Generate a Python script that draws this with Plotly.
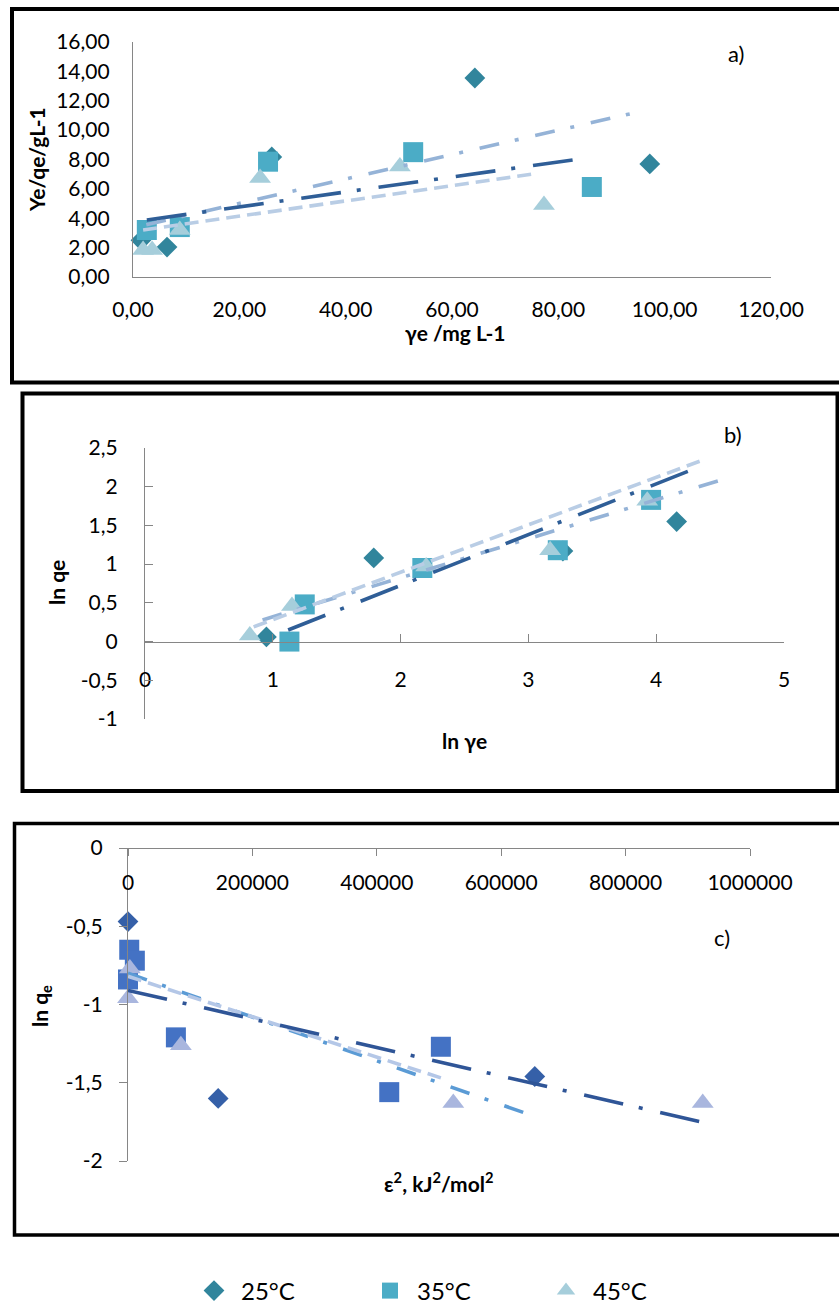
import numpy as np
import plotly.graph_objects as go

W, H = 839, 1305

series = ["25°C", "35°C", "45°C"]

# ---- a) Ye/qe vs ye ----
a_x_25 = [1.5, 6.4, 26.1, 64.3, 97.2]
a_y_25 = [2.5, 2.04, 8.17, 13.55, 7.7]
a_x_35 = [2.6, 8.8, 25.4, 52.7, 86.3]
a_y_35 = [3.2, 3.4, 7.85, 8.5, 6.13]
a_x_45 = [1.9, 3.6, 8.8, 23.9, 50.2, 77.3]
a_y_45 = [1.84, 1.84, 3.2, 6.74, 7.52, 4.9]
# linear trend lines (start x, end x, intercept, slope) per series
a_tr_x0 = [2.5, 2.6, 1.9]
a_tr_x1 = [95.8, 85.3, 76.0]
a_tr_b0 = [3.35, 3.75, 3.10]
a_tr_b1 = [0.083, 0.051, 0.052]
a_xticks = [0, 20, 40, 60, 80, 100, 120]
a_xtext = ["0,00", "20,00", "40,00", "60,00", "80,00", "100,00", "120,00"]
a_yticks = [0, 2, 4, 6, 8, 10, 12, 14, 16]
a_ytext = ["0,00", "2,00", "4,00", "6,00", "8,00", "10,00", "12,00", "14,00", "16,00"]

# ---- b) ln qe vs ln ye ----
b_x_25 = [0.95, 1.79, 3.27, 4.16]
b_y_25 = [0.06, 1.08, 1.17, 1.55]
b_x_35 = [1.13, 1.25, 2.17, 3.23, 3.96]
b_y_35 = [0.0, 0.48, 0.95, 1.18, 1.83]
b_x_45 = [0.82, 1.15, 2.2, 3.17, 3.93]
b_y_45 = [0.08, 0.46, 0.97, 1.18, 1.82]
b_tr_x0 = [0.92, 1.12, 0.85]
b_tr_x1 = [4.59, 4.34, 4.34]
b_tr_b0 = [-0.184, -0.584, -0.331]
b_tr_b1 = [0.504, 0.655, 0.613]
b_xticks = [0, 1, 2, 3, 4, 5]
b_xtext = ["0", "1", "2", "3", "4", "5"]
b_yticks = [-1, -0.5, 0, 0.5, 1, 1.5, 2, 2.5]
b_ytext = ["-1", "-0,5", "0", "0,5", "1", "1,5", "2", "2,5"]

# ---- c) ln qe vs eps^2 ----
c_x_25 = [0, 145000, 654000]
c_y_25 = [-0.47, -1.60, -1.46]
c_x_35 = [2000, 11000, 0, 77000, 420000, 503000]
c_y_35 = [-0.65, -0.72, -0.84, -1.21, -1.56, -1.27]
c_x_45 = [3000, 0, 85000, 523000, 924000]
c_y_45 = [-0.77, -0.96, -1.26, -1.63, -1.63]
c_tr_x0 = [0, 0, 0]
c_tr_x1 = [651000, 503000, 921000]
c_tr_b0 = [-0.80, -0.82, -0.91]
c_tr_b1 = [-1.40e-6, -1.29e-6, -0.912e-6]
c_xticks = [0, 200000, 400000, 600000, 800000, 1000000]
c_xtext = ["0", "200000", "400000", "600000", "800000", "1000000"]
c_yticks = [-2, -1.5, -1, -0.5, 0]
c_ytext = ["-2", "-1,5", "-1", "-0,5", "0"]

FONT = "Lato"
AXIS_GREY = "#868686"

symbols = ["diamond", "square", "triangle-up"]
sizes = [16, 20, 19]
ab_colors = ["#31859C", "#4BACC6", "#A6CEDB"]
c_colors = ["#3560A8", "#4472C4", "#A9B6DE"]

DASH_LONG = "40px,16px,4px,18px"
DASH_DOT = "20px,16px,4px,17px"
DASH = "14px,7px"
ab_line = [("#95B3D7", DASH_DOT), ("#2F5E97", DASH_LONG), ("#B9CDE5", DASH)]
c_line = [("#5B9BD5", DASH_DOT), ("#B4C7E7", DASH), ("#2F5597", DASH_LONG)]


def px(x):
    return x / W


def py(y):
    return 1 - y / H


fig = go.Figure()


def add_panel(xs, ys, colors, lines, tx0, tx1, tb0, tb1, xa, ya, legend):
    for i in range(3):
        fig.add_trace(go.Scatter(
            x=xs[i], y=ys[i], mode="markers", name=series[i],
            marker=dict(symbol=symbols[i], size=sizes[i], color=colors[i],
                        line=dict(width=0)),
            xaxis=xa, yaxis=ya, showlegend=legend, cliponaxis=False))
    for i in range(3):
        xx = np.array([tx0[i], tx1[i]], dtype=float)
        yy = tb0[i] + tb1[i] * xx
        col, dash = lines[i]
        fig.add_trace(go.Scatter(
            x=xx, y=yy, mode="lines", line=dict(color=col, width=3.6, dash=dash),
            xaxis=xa, yaxis=ya, showlegend=False, hoverinfo="skip",
            cliponaxis=False))


add_panel([a_x_25, a_x_35, a_x_45], [a_y_25, a_y_35, a_y_45], ab_colors, ab_line,
          a_tr_x0, a_tr_x1, a_tr_b0, a_tr_b1, "x", "y", True)
add_panel([b_x_25, b_x_35, b_x_45], [b_y_25, b_y_35, b_y_45], ab_colors, ab_line,
          b_tr_x0, b_tr_x1, b_tr_b0, b_tr_b1, "x2", "y2", False)
add_panel([c_x_25, c_x_35, c_x_45], [c_y_25, c_y_35, c_y_45], c_colors, c_line,
          c_tr_x0, c_tr_x1, c_tr_b0, c_tr_b1, "x3", "y3", False)

tickfont = dict(family=FONT, size=21, color="#000000")
common = dict(showgrid=False, zeroline=False, showline=True, linecolor=AXIS_GREY,
              linewidth=1.3, tickfont=tickfont, tickcolor=AXIS_GREY, tickwidth=1.3,
              tickmode="array", fixedrange=True, automargin=False)

fig.update_layout(
    width=W, height=H,
    margin=dict(l=0, r=0, t=0, b=0, autoexpand=False),
    paper_bgcolor="white", plot_bgcolor="rgba(0,0,0,0)",
    font=dict(family=FONT, color="#000000"),
    xaxis=dict(domain=[px(133), px(771)], range=[0, 120], anchor="y",
               tickvals=a_xticks, ticktext=a_xtext, ticks="", ticklabelstandoff=14,
               **common),
    yaxis=dict(domain=[py(277), py(42)], range=[0, 16], anchor="x",
               tickvals=a_yticks, ticktext=a_ytext, ticks="", ticklabelstandoff=18,
               **common),
    xaxis2=dict(domain=[px(145), px(784)], range=[0, 5], anchor="free",
                position=py(642), tickvals=b_xticks, ticktext=b_xtext,
                ticks="inside", ticklen=8, ticklabelstandoff=19, **common),
    yaxis2=dict(domain=[py(719), py(448)], range=[-1, 2.5], anchor="x2",
                tickvals=b_yticks, ticktext=b_ytext,
                ticks="inside", ticklen=8, ticklabelstandoff=22, **common),
    xaxis3=dict(domain=[px(128), px(750)], range=[0, 1000000], anchor="free",
                position=py(848), side="bottom", tickvals=c_xticks, ticktext=c_xtext,
                ticks="outside", ticklen=7, ticklabelstandoff=9, **common),
    yaxis3=dict(domain=[py(1161), py(848)], range=[-2, 0], anchor="x3",
                tickvals=c_yticks, ticktext=c_ytext,
                ticks="outside", ticklen=8, ticklabelstandoff=12, **common),
    legend=dict(orientation="h", x=px(187), y=py(1291), xanchor="left", yanchor="middle",
                font=dict(family=FONT, size=24, color="#000000"),
                itemwidth=44, entrywidth=117, entrywidthmode="pixels",
                bgcolor="rgba(0,0,0,0)"),
)

# panel frames
frames = [(12, 9, 850, 382.5, 4), (22.5, 393.5, 837.5, 791, 4), (14.5, 823.5, 850, 1235, 3.5)]
for x0, y0, x1, y1, w in frames:
    fig.add_shape(type="rect", xref="paper", yref="paper",
                  x0=px(x0), x1=px(x1), y0=py(y0), y1=py(y1),
                  line=dict(color="#000000", width=w), fillcolor="rgba(0,0,0,0)",
                  layer="above")

title_font = dict(family=FONT, size=21, color="#000000")
label_font = dict(family=FONT, size=22, color="#000000")
texts = [
    ("<b>Ye/qe/gL-1</b>", 36, 160, -90, title_font),
    ("<b>γe /mg L-1</b>", 455, 332, 0, title_font),
    ("a)", 736, 53, 0, label_font),
    ("<b>ln qe</b>", 56, 583, -90, title_font),
    ("<b>ln γe</b>", 464, 740, 0, title_font),
    ("b)", 733, 435, 0, label_font),
    ("<b>ln q<sub>e</sub></b>", 41, 1006, -90, title_font),
    ("<b>ε<sup>2</sup>, kJ<sup>2</sup>/mol<sup>2</sup></b>", 439, 1182, 0, title_font),
    ("c)", 722, 937, 0, label_font),
]
for t, x, y, ang, f in texts:
    fig.add_annotation(text=t, x=px(x), y=py(y), xref="paper", yref="paper",
                       xanchor="center", yanchor="middle", showarrow=False,
                       textangle=ang, font=f)

fig.write_html("out.html")
